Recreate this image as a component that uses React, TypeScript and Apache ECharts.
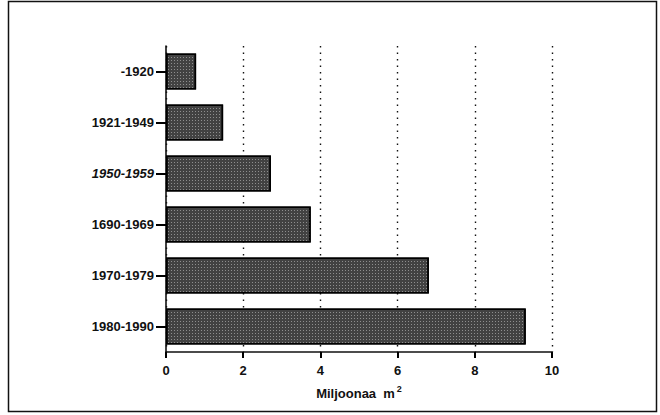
import React, { useEffect, useRef } from "react";
import * as echarts from "echarts";

const categories = ["-1920", "1921-1949", "1950-1959", "1690-1969", "1970-1979", "1980-1990"];
const values = [0.78, 1.48, 2.72, 3.75, 6.81, 9.32];
const italicCategories = ["1950-1959"];
const xAxisName = "Miljoonaa  m";

export default function App() {
  const ref = useRef<HTMLDivElement>(null);
  useEffect(() => {
    if (!ref.current) return;
    const chart = echarts.init(ref.current, null, { renderer: "svg" });
    const font = "'Liberation Sans', Arial, sans-serif";
    chart.setOption({
      animation: false,
      backgroundColor: "#ffffff",
      graphic: [
        {
          type: "rect",
          shape: { x: 8.5, y: 1.5, width: 648, height: 410 },
          style: { fill: "none", stroke: "#111", lineWidth: 1.5 },
          silent: true,
        },
      ],
      grid: { left: 166, right: 108, top: 46, bottom: 63 },
      xAxis: {
        type: "value",
        min: 0,
        max: 10,
        interval: 2,
        name: xAxisName + "{sup|2}",
        nameLocation: "middle",
        nameGap: 32,
        nameTextStyle: {
          fontFamily: font,
          fontWeight: "bold",
          fontSize: 13,
          color: "#111",
          rich: {
            sup: { fontFamily: font, fontWeight: "bold", fontSize: 9, color: "#111", verticalAlign: "top", padding: [0, 0, 9, 2] },
          },
        },
        axisLine: { show: true, lineStyle: { color: "#111", width: 1.6 } },
        axisTick: { show: true, length: 6, lineStyle: { color: "#000", width: 2 } },
        axisLabel: { fontFamily: font, fontWeight: "bold", fontSize: 13, color: "#111", margin: 12 },
        splitLine: {
          show: true,
          lineStyle: { color: "#111", width: 1.4, type: [1.5, 5] },
        },
      },
      yAxis: {
        type: "category",
        inverse: true,
        data: categories,
        axisLine: { show: true, lineStyle: { color: "#111", width: 1.6 } },
        axisTick: { show: true, alignWithLabel: true, length: 10, lineStyle: { color: "#000", width: 2 } },
        axisLabel: {
          fontFamily: font,
          fontWeight: "bold",
          fontSize: 13,
          color: "#111",
          margin: 12,
          formatter: (v: string) => (italicCategories.includes(v) ? "{i|" + v + "}" : v),
          rich: {
            i: { fontFamily: font, fontWeight: "bold", fontStyle: "italic", fontSize: 13, color: "#111" },
          },
        },
        splitLine: { show: false },
      },
      series: [
        {
          type: "bar",
          data: values,
          barCategoryGap: "29%",
          itemStyle: {
            color: "#424242",
            borderColor: "#000",
            borderWidth: 1.5,
            decal: {
              symbol: "rect",
              symbolSize: 1,
              color: "rgba(255,255,255,0.4)",
              dashArrayX: [1, 2],
              dashArrayY: [1, 2],
            },
          },
        },
      ],
    });
    return () => chart.dispose();
  }, []);
  return <div ref={ref} style={{ position: "fixed", left: 0, top: 0, width: 660, height: 415 }} />;
}
